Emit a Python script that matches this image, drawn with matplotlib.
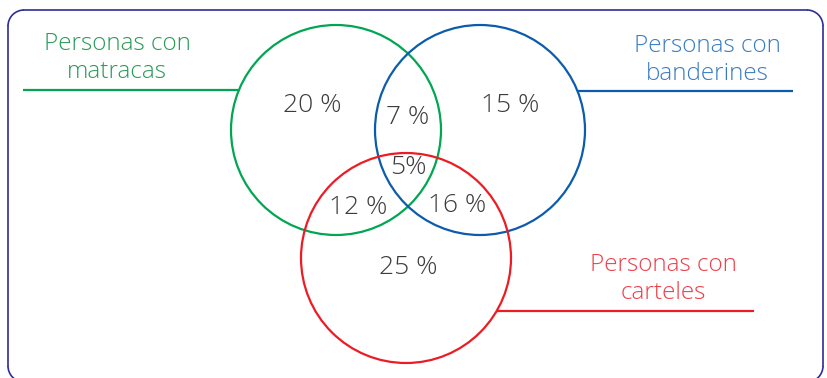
import matplotlib.pyplot as plt
from matplotlib.patches import Circle, Arc

# Sets: name lines, colour for circle, colour for label
set_labels = ["Personas con\nmatracas", "Personas con\nbanderines", "Personas con\ncarteles"]
circle_colors = ["#00a651", "#0b5cad", "#ed1c24"]
label_colors = ["#2b9a58", "#3a7cc3", "#ef3e49"]

# Region values (percent)
region_names = ["solo_matracas", "matracas_banderines", "solo_banderines", "todos",
                "matracas_carteles", "banderines_carteles", "solo_carteles"]
region_values = [20, 7, 15, 5, 12, 16, 25]

# Layout (pixel coordinates, y down)
circle_centers = [(336, 130), (480, 130), (406, 258)]
radius = 105
region_pos = [(312, 105), (408, 118), (510, 105), (408, 168),
              (358, 207), (457, 205), (408, 268)]
label_pos = [(117, 58), (707, 60), (663, 279)]
leader_lines = [((23, 238), 90), ((578, 793), 91), ((497, 754), 311)]

fig = plt.figure(figsize=(8.27, 3.78), dpi=100)
ax = fig.add_axes([0, 0, 1, 1])
ax.set_xlim(0, 827)
ax.set_ylim(378, 0)
ax.axis("off")

# Rounded frame (bottom edge runs off the picture)
fc, fw, r = "#2e2e9a", 1.2, 16
left, right, top, bottom = 8, 823, 10, 382
ax.plot([left + r, right - r], [top, top], color=fc, lw=fw)
ax.plot([left, left], [top + r, bottom - r], color=fc, lw=fw)
ax.plot([right, right], [top + r, bottom - r], color=fc, lw=fw)
ax.plot([left + r, right - r], [bottom, bottom], color=fc, lw=fw)
for cx, cy, a0 in [(left + r, top + r, 180), (right - r, top + r, 270),
                   (left + r, bottom - r, 90), (right - r, bottom - r, 0)]:
    ax.add_patch(Arc((cx, cy), 2 * r, 2 * r, theta1=a0, theta2=a0 + 90,
                     color=fc, lw=fw))

for (cx, cy), col in zip(circle_centers, circle_colors):
    ax.add_patch(Circle((cx, cy), radius, fill=False, edgecolor=col, linewidth=1.6))

for ((x0, x1), y), col in zip(leader_lines, circle_colors):
    ax.plot([x0, x1], [y, y], color=col, linewidth=1.6, solid_capstyle="butt")

for (x, y), txt, col in zip(label_pos, set_labels, label_colors):
    ax.text(x, y, txt, color=col, fontsize=17.5, ha="center", va="center",
            family="Open Sans", fontweight="light", linespacing=1.25)

for (x, y), v in zip(region_pos, region_values):
    ax.text(x, y, f"{v} %" if v != 5 else "5%", color="#3c3c3c", fontsize=19,
            ha="center", va="center", family="Open Sans", fontweight="light")

plt.savefig("out.png", dpi=100)
plt.close(fig)
